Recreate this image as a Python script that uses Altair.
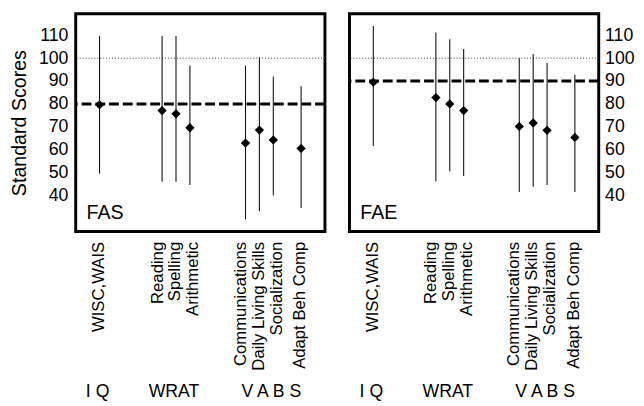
import altair as alt
import pandas as pd

# ---------------- data ----------------
categories = ["WISC,WAIS", "Reading", "Spelling", "Arithmetic",
              "Communications", "Daily Living Skills", "Socialization", "Adapt Beh Comp"]
# number of empty slots between consecutive categories (layout of the x point scale)
gap_slots = [8, 1, 1, 7, 1, 1, 3]
edge_slots = 3
# small horizontal nudges of the rotated tick labels (px), as typeset in the original
label_nudge = [-1, -5, -1, 3, -5.3, -1.3, 3, -1.8]

groups = ["I Q", "WRAT", "V A B S"]
group_anchor = ["WISC,WAIS", "Spelling", "Socialization"]

panels = ["FAS", "FAE"]

fas_mean = [79.6, 77.1, 75.7, 69.6, 62.9, 68.6, 64.3, 60.6]
fas_low = [49.6, 46.0, 46.0, 44.6, 29.6, 33.2, 40.0, 34.6]
fas_high = [109.7, 109.7, 109.7, 96.8, 96.8, 100.4, 92.0, 87.7]

fae_mean = [89.5, 82.8, 80.0, 77.1, 70.2, 71.7, 68.5, 65.4]
fae_low = [61.6, 46.3, 50.6, 48.5, 41.6, 43.8, 44.6, 41.6]
fae_high = [114.0, 111.2, 108.3, 104.0, 100.0, 101.8, 97.9, 92.8]

normal_score = [100]
cutoffs = [80, 90]
y_ticks = [40, 50, 60, 70, 80, 90, 100, 110]

# ---------------- styling ----------------
FONT = "Liberation Sans"
W, H = 254, 222
y_domain = [24.3, 119.4]

slot_domain = [f"_lead{k}" for k in range(edge_slots)]
for i, c in enumerate(categories):
    slot_domain.append(c)
    if i < len(gap_slots):
        for k in range(gap_slots[i]):
            slot_domain.append(f"_gap{i}_{k}")
slot_domain += [f"_trail{k}" for k in range(edge_slots)]

xscale = alt.Scale(type="point", domain=slot_domain, padding=0.43)
yscale = alt.Scale(domain=y_domain, nice=False, zero=False)

offset_cond = {
    "condition": [{"test": f"datum.value === '{c}'", "value": n}
                  for c, n in zip(categories, label_nudge)],
    "value": 0,
}

x_axis = alt.Axis(values=categories, labelAngle=-90, labelFont=FONT, labelFontSize=17,
                  labelColor="black", labelPadding=10, ticks=False, tickSize=0,
                  domain=False, grid=False, labelOverlap=False, labelBound=False,
                  labelOffset=offset_cond, title=None)


def y_axis(orient):
    if orient == "left":
        return alt.Axis(orient="left", values=y_ticks, title="Standard Scores",
                        titleFont=FONT, titleFontSize=20, titleFontWeight="normal",
                        titleColor="black", titlePadding=9,
                        labelFont=FONT, labelFontSize=18, labelColor="black",
                        labelPadding=8, ticks=False, tickSize=0, domain=False, grid=False)
    return alt.Axis(orient="right", values=y_ticks, title=None,
                    labelFont=FONT, labelFontSize=18, labelColor="black",
                    labelPadding=6, ticks=False, tickSize=0, domain=False, grid=False)


def panel(name, means, lows, highs, cutoff, orient):
    df = pd.DataFrame({"cat": categories, "mean": means, "lo": lows, "hi": highs})
    yax = y_axis(orient)
    X = alt.X("cat:N", scale=xscale, axis=x_axis)

    normal = alt.Chart(pd.DataFrame({"v": normal_score})).mark_rule(
        color="#333", strokeWidth=1, strokeDash=[1, 2]
    ).encode(y=alt.Y("v:Q", scale=yscale, axis=yax))

    cut = alt.Chart(pd.DataFrame({"v": [cutoff]})).mark_rule(
        color="black", strokeWidth=3, strokeDash=[10, 4]
    ).encode(y=alt.Y("v:Q", scale=yscale, axis=yax))

    bars = alt.Chart(df).mark_rule(color="#111", strokeWidth=1.1).encode(
        x=X, y=alt.Y("lo:Q", scale=yscale, axis=yax), y2="hi:Q")

    pts = alt.Chart(df).mark_point(shape="diamond", filled=True, size=90,
                                   color="black", opacity=1).encode(
        x=X, y=alt.Y("mean:Q", scale=yscale, axis=yax))

    label = alt.Chart(pd.DataFrame({"t": [name]})).mark_text(
        align="left", baseline="alphabetic", font=FONT, fontSize=20, color="black"
    ).encode(x=alt.value(11), y=alt.value(209), text="t:N")

    gdf = pd.DataFrame({"g": groups, "cat": group_anchor})
    glab = alt.Chart(gdf).mark_text(
        align="center", baseline="alphabetic", font=FONT, fontSize=18, color="black", dx=-2
    ).encode(x=X, y=alt.value(391), text="g:N")

    return alt.layer(normal, cut, bars, pts, label, glab).properties(width=W, height=H)


left = panel("FAS", fas_mean, fas_low, fas_high, cutoffs[0], "left")
right = panel("FAE", fae_mean, fae_low, fae_high, cutoffs[1], "right")

chart = alt.hconcat(left, right, spacing=19).properties(
    padding={"left": 0, "top": 0, "right": 0, "bottom": 0},
    background="white"
).configure_view(stroke="black", strokeWidth=3)

chart.save("out.html", embed_options={"renderer": "svg", "actions": False})
